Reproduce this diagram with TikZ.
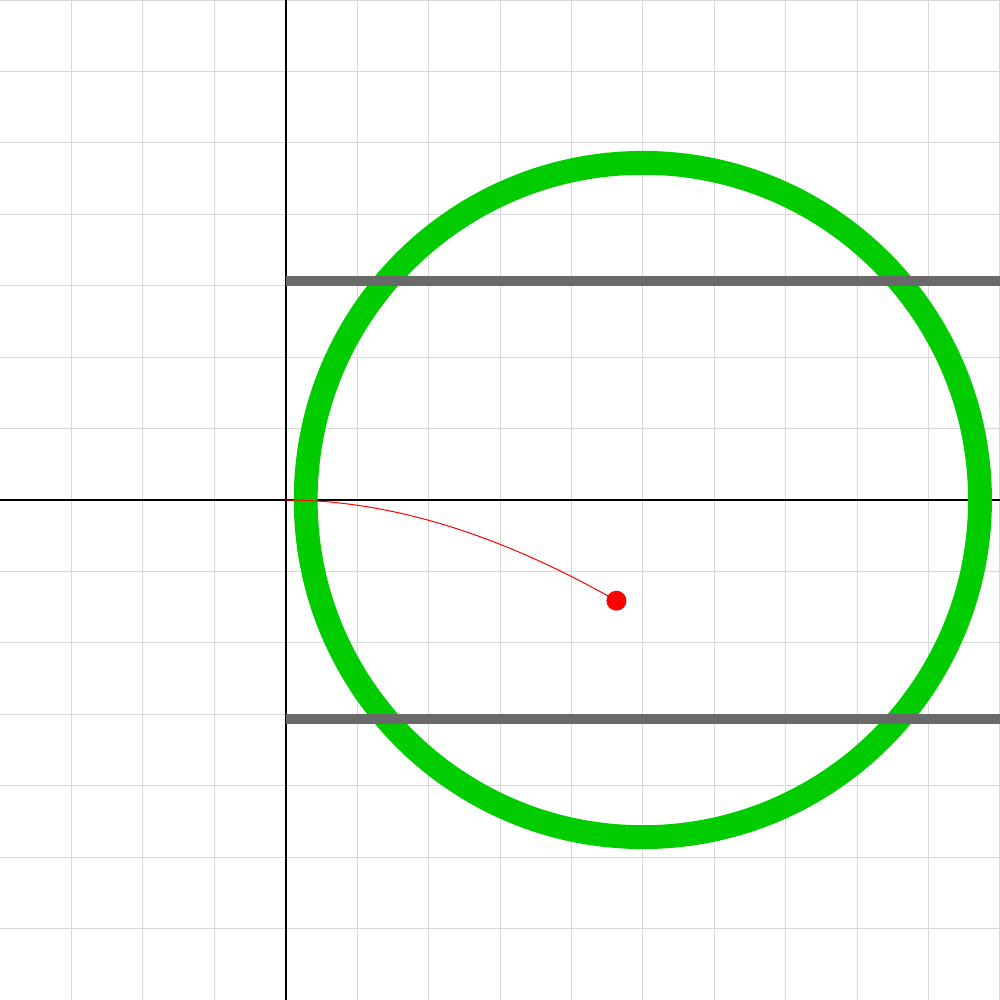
\documentclass[tikz,border=0pt]{standalone}
\usepackage{xcolor}
\usepackage{tikz}
\usetikzlibrary{calc}

\definecolor{ringgreen}{HTML}{00CC00}
\definecolor{bargray}{HTML}{696969}

\begin{document}
\begin{tikzpicture}[
  gridline/.style={draw=gray!30,line width=0.4pt},
  axis/.style={draw=black,line width=0.8pt},
  ring/.style={draw=ringgreen,line width=9.5pt},
  bar/.style={draw=bargray,line width=4pt},
  redpath/.style={draw=red,line width=0.4pt},
  dot/.style={circle,fill=red,inner sep=0pt,minimum size=0.28cm}
]
\useasboundingbox (-4,-7) rectangle (10,7);
\draw[gridline] (-4,-7) grid (10,7);
\draw[axis] (-4,0) -- (10,0);
\draw[axis] (0,-7) -- (0,7);
\coordinate (o) at (0,0);
\coordinate (c) at (5,0);
\draw[ring] (c) circle (4.72);
\coordinate (top-l) at (0,3.07);
\coordinate (top-r) at (10,3.07);
\coordinate (bot-l) at (0,-3.07);
\coordinate (bot-r) at (10,-3.07);
\draw[bar] (top-l) -- (top-r);
\draw[bar] (bot-l) -- (bot-r);
\coordinate (pc) at (4.63,-1.41);
\draw[redpath] (o) .. controls (1.44,0) and (2.98,-0.47) .. (pc);
\node[dot] (p) at (pc) {};
\end{tikzpicture}
\end{document}
